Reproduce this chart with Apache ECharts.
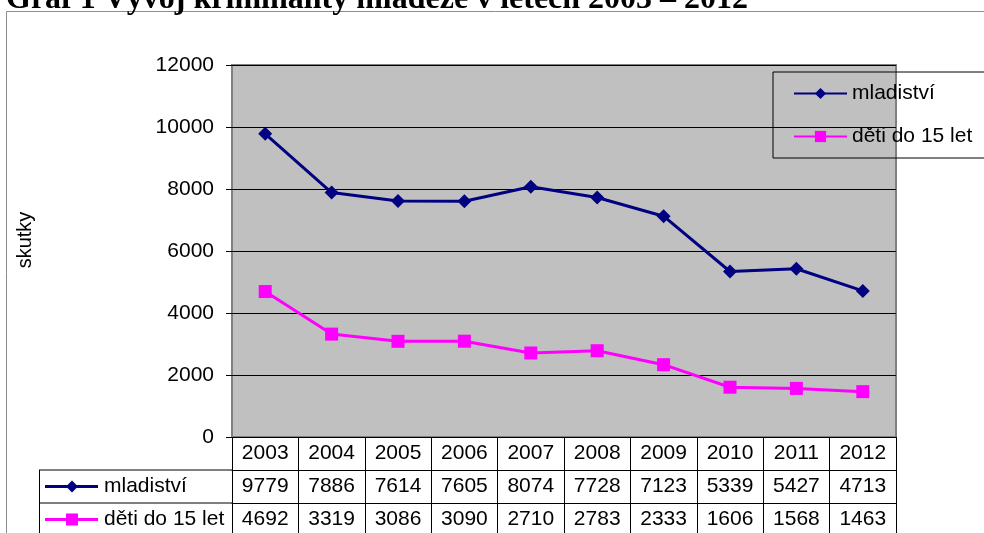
<!DOCTYPE html>
<html>
<head>
<meta charset="utf-8">
<script src="https://cdn.jsdelivr.net/npm/echarts@6/dist/echarts.min.js"></script>
<style>
  html, body { margin: 0; padding: 0; background: #fff; }
  #chart { width: 984px; height: 533px; }
</style>
</head>
<body>
<div id="chart"></div>
<script>
// data
var years = ['2003', '2004', '2005', '2006', '2007', '2008', '2009', '2010', '2011', '2012']
var mladistvi = [9779, 7886, 7614, 7605, 8074, 7728, 7123, 5339, 5427, 4713]
var detiDo15 = [4692, 3319, 3086, 3090, 2710, 2783, 2333, 1606, 1568, 1463]
var seriesNames = ['mladiství', 'děti do 15 let']
var yMin = 0
var yMax = 12000
var yStep = 2000

var FONT = '"Liberation Sans", Arial, sans-serif'
var NAVY = '#000080'
var PINK = '#ff00ff'

// plot box
var gridLeft = 232
var gridTop = 65
var gridRight = 896
var gridBottom = 437
var rowH = 33

var chart = echarts.init(document.getElementById('chart'))

// table row for x axis (years / values)
function tableAxis(data, offset) {
  return {
    type: 'category',
    data: data,
    gridIndex: 0,
    position: 'bottom',
    offset: offset,
    boundaryGap: true,
    axisLine: { show: true, lineStyle: { color: '#000', width: 1 } },
    axisTick: { show: true, inside: false, length: rowH, lineStyle: { color: '#000', width: 1 } },
    axisLabel: { color: '#000', fontSize: 21, fontFamily: FONT, margin: 6, interval: 0 },
    splitLine: { show: false }
  }
}

// left column of the data table
function tableLegendRow(i, color, isDiamond) {
  var cy = gridBottom + rowH * (i + 1.5)
  var els = [
    { type: 'line', shape: { x1: 45, y1: cy, x2: 98, y2: cy }, style: { stroke: color, lineWidth: 3 } }
  ]
  if (isDiamond) {
    els.push({ type: 'polygon', shape: { points: [[72, cy - 6], [78, cy], [72, cy + 6], [66, cy]] }, style: { fill: color } })
  } else {
    els.push({ type: 'rect', shape: { x: 66, y: cy - 6, width: 12, height: 12 }, style: { fill: color } })
  }
  els.push({
    type: 'text', x: 104, y: cy,
    style: { text: seriesNames[i], font: '21px ' + FONT, fill: '#000', verticalAlign: 'middle', align: 'left' }
  })
  return els
}

var graphics = [
  // outer frame
  { type: 'rect', shape: { x: 6.5, y: 11.5, width: 1100, height: 600 }, style: { fill: 'none', stroke: '#8c8c8c', lineWidth: 1 }, z: -1 },
  {
    type: 'text', x: 6, y: 0,
    style: { text: 'Graf 1 Vývoj kriminality mládeže v letech 2003 – 2012', font: 'bold 32px "Liberation Serif", "Times New Roman", serif', fill: '#000', verticalAlign: 'middle', align: 'left' }
  },
  {
    type: 'text', x: 25, y: 240, rotation: Math.PI / 2,
    style: { text: 'skutky', font: '20px ' + FONT, fill: '#000', align: 'center', verticalAlign: 'middle' }
  },
  // table lines left of the plot
  { type: 'line', shape: { x1: 39, y1: gridBottom + rowH, x2: gridLeft, y2: gridBottom + rowH }, style: { stroke: '#000', lineWidth: 1 } },
  { type: 'line', shape: { x1: 39, y1: gridBottom + rowH * 2, x2: gridLeft, y2: gridBottom + rowH * 2 }, style: { stroke: '#000', lineWidth: 1 } },
  { type: 'line', shape: { x1: 39.5, y1: gridBottom + rowH, x2: 39.5, y2: 540 }, style: { stroke: '#000', lineWidth: 1 } }
].concat(tableLegendRow(0, NAVY, true), tableLegendRow(1, PINK, false))

var option = {
  animation: false,
  backgroundColor: '#fff',
  textStyle: { fontFamily: FONT },
  grid: {
    left: gridLeft,
    top: gridTop,
    right: 984 - gridRight,
    bottom: 533 - gridBottom,
    show: true,
    backgroundColor: '#c0c0c0',
    borderColor: '#808080',
    borderWidth: 2
  },
  legend: {
    orient: 'vertical',
    left: 773,
    top: 72,
    padding: [11, 40, 11, 20],
    itemGap: 22,
    itemWidth: 53,
    itemHeight: 14,
    borderColor: '#000',
    borderWidth: 1,
    backgroundColor: 'transparent',
    textStyle: { color: '#000', fontSize: 21, fontFamily: FONT },
    data: seriesNames
  },
  xAxis: [
    tableAxis(years, 0),
    tableAxis(mladistvi.map(String), rowH),
    tableAxis(detiDo15.map(String), rowH * 2)
  ],
  yAxis: {
    type: 'value',
    min: yMin,
    max: yMax,
    interval: yStep,
    axisLine: { show: false },
    axisTick: { show: true, inside: false, length: 6, lineStyle: { color: '#000' } },
    axisLabel: {
      color: '#000', fontSize: 21, fontFamily: FONT, margin: 18,
      formatter: function (v) { return String(v) }
    },
    splitLine: { show: true, lineStyle: { color: '#000', width: 1 } }
  },
  series: [
    {
      name: seriesNames[0],
      type: 'line',
      xAxisIndex: 0,
      data: mladistvi,
      symbol: 'diamond',
      symbolSize: 14,
      lineStyle: { color: NAVY, width: 3 },
      itemStyle: { color: NAVY }
    },
    {
      name: seriesNames[1],
      type: 'line',
      xAxisIndex: 0,
      data: detiDo15,
      symbol: 'rect',
      symbolSize: 13,
      lineStyle: { color: PINK, width: 3 },
      itemStyle: { color: PINK }
    }
  ],
  graphic: graphics
}

chart.setOption(option)
</script>
</body>
</html>
